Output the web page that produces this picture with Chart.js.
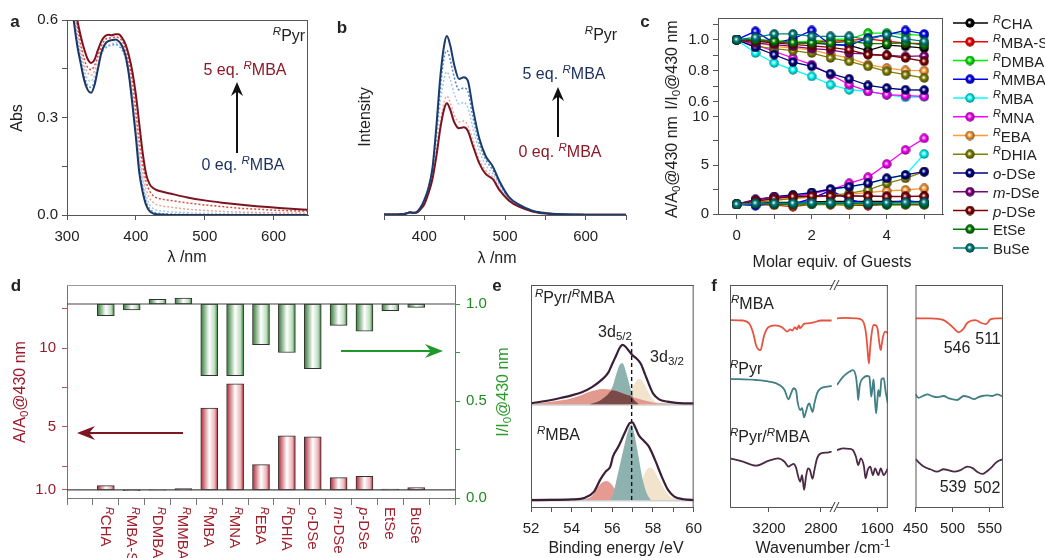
<!DOCTYPE html>
<html>
<head>
<meta charset="utf-8">
<script src="https://cdn.jsdelivr.net/npm/chart.js@4.4.1/dist/chart.umd.min.js"></script>
<style>
body { margin: 0; background: #fff; }
#fig { position: relative; width: 1045px; height: 558px; overflow: hidden; background: #fff; }
.pn { position: absolute; }
.pn canvas { display: block; }
.lbl { position: absolute; white-space: nowrap; font: 16px "Liberation Sans", Arial, sans-serif; line-height: 1; color: #222; }
.lbl sup { font-size: 72%; vertical-align: 0.5em; line-height: 0; }
.lbl sub { font-size: 72%; vertical-align: -0.28em; line-height: 0; }
</style>
</head>
<body>
<div id="fig">
  <div class="pn" style="left:0;top:0"><canvas id="cA" width="330" height="270"></canvas></div>
  <div class="pn" style="left:330px;top:0"><canvas id="cB" width="330" height="270"></canvas></div>
  <div class="pn" style="left:660px;top:0"><canvas id="cC" width="385" height="270"></canvas></div>
  <div class="pn" style="left:0;top:270px"><canvas id="cD" width="510" height="288"></canvas></div>
  <div class="pn" style="left:510px;top:270px"><canvas id="cE" width="200" height="288"></canvas></div>
  <div class="pn" style="left:710px;top:270px"><canvas id="cF1" width="150" height="288"></canvas></div>
  <div class="pn" style="left:815px;top:270px"><canvas id="cF2" width="90" height="288"></canvas></div>
  <div class="pn" style="left:895px;top:270px"><canvas id="cF3" width="150" height="288"></canvas></div>
</div>
<script>
// ---- a: absorption titration ----
const waveA = [300,305,310,315,320,325,330,335,340,345,350,355,360,365,370,375,380,385,390,395,400,405,410,415,420,425,430,440,450,475,500,525,550,575,600,625,650];
const abs0 = [0.82,0.69,0.595,0.52,0.465,0.415,0.385,0.376,0.40,0.45,0.50,0.525,0.535,0.538,0.54,0.535,0.52,0.49,0.43,0.34,0.24,0.13,0.07,0.03,0.012,0.005,0.002,0.001,0,0,0,0,0,0,0,0,0];
const absLb1 = [0.83,0.71,0.615,0.54,0.48,0.43,0.40,0.393,0.412,0.455,0.495,0.512,0.52,0.522,0.525,0.52,0.508,0.482,0.43,0.35,0.255,0.15,0.085,0.042,0.02,0.01,0.006,0.004,0.003,0.002,0.001,0,0,0,0,0,0];
const absLb2 = [0.84,0.72,0.63,0.555,0.495,0.447,0.418,0.412,0.428,0.462,0.497,0.515,0.522,0.527,0.53,0.527,0.515,0.49,0.44,0.36,0.27,0.175,0.105,0.058,0.032,0.02,0.015,0.012,0.01,0.007,0.005,0.004,0.003,0.003,0.002,0.002,0.002];
const absPk = [0.85,0.73,0.645,0.572,0.512,0.463,0.438,0.43,0.443,0.475,0.508,0.526,0.534,0.535,0.538,0.535,0.525,0.5,0.455,0.38,0.29,0.195,0.125,0.078,0.052,0.039,0.032,0.027,0.024,0.018,0.014,0.011,0.009,0.008,0.007,0.006,0.006];
const absRd = [0.86,0.745,0.655,0.585,0.528,0.48,0.455,0.447,0.46,0.49,0.52,0.538,0.545,0.545,0.548,0.545,0.535,0.512,0.47,0.41,0.32,0.23,0.155,0.102,0.074,0.06,0.053,0.048,0.045,0.037,0.031,0.026,0.021,0.018,0.015,0.013,0.012];
const abs5 = [0.88,0.76,0.67,0.60,0.55,0.51,0.48,0.468,0.478,0.508,0.535,0.55,0.555,0.553,0.556,0.556,0.545,0.525,0.49,0.44,0.37,0.28,0.19,0.125,0.095,0.083,0.077,0.071,0.066,0.054,0.045,0.038,0.032,0.027,0.023,0.019,0.016];
const aXTicks = [300, 400, 500, 600], aXLabels = ['300', '400', '500', '600'];
const aYTicks = [0, 0.15, 0.3, 0.45, 0.6], aYLabels = ['0.0', '', '0.3', '', '0.6'];

// ---- b: emission titration ----
const waveB = [350,360,370,375,380,382,385,390,395,400,405,410,415,420,425,428,432,437,443,449,454,460,468,476,485,493,505,518,534,551,571,600,650];
const em0 = [0.003,0.003,0.004,0.006,0.012,0.016,0.012,0.012,0.03,0.06,0.12,0.2,0.33,0.49,0.6,0.625,0.59,0.52,0.485,0.49,0.47,0.39,0.29,0.23,0.2,0.14,0.08,0.045,0.02,0.008,0.003,0.002,0.001];
const emPk = [0.003,0.003,0.004,0.006,0.012,0.016,0.012,0.013,0.032,0.065,0.13,0.215,0.36,0.53,0.64,0.665,0.63,0.56,0.52,0.525,0.5,0.42,0.31,0.25,0.21,0.15,0.085,0.048,0.021,0.009,0.003,0.002,0.001];
const emLb = [0.003,0.003,0.004,0.006,0.012,0.016,0.012,0.014,0.035,0.072,0.135,0.235,0.42,0.64,0.77,0.8,0.76,0.68,0.62,0.63,0.6,0.49,0.36,0.28,0.23,0.165,0.09,0.05,0.022,0.009,0.004,0.002,0.001];
const emMb = [0.003,0.003,0.004,0.006,0.012,0.016,0.012,0.015,0.038,0.08,0.145,0.25,0.46,0.72,0.89,0.92,0.87,0.77,0.7,0.71,0.69,0.55,0.4,0.31,0.25,0.18,0.095,0.054,0.023,0.01,0.004,0.002,0.001];
const em5 = [0.003,0.003,0.004,0.006,0.012,0.016,0.012,0.015,0.04,0.085,0.15,0.26,0.5,0.78,0.96,1.0,0.95,0.84,0.76,0.77,0.75,0.6,0.43,0.33,0.27,0.19,0.1,0.056,0.024,0.01,0.004,0.002,0.001];
const bXTicks = [350, 400, 450, 500, 550, 600, 650], bXLabels = ['', '400', '', '500', '', '600', ''];

// ---- c: titration with guests ----
const guests = ['RCHA', 'RMBA-S', 'RDMBA', 'RMMBA', 'RMBA', 'RMNA', 'REBA', 'RDHIA', 'o-DSe', 'm-DSe', 'p-DSe', 'EtSe', 'BuSe'];
const guestColors = ['#000000', '#ff0000', '#00ee00', '#0000ff', '#00ffff', '#ff00ff', '#ff9933', '#808000', '#000080', '#800080', '#800000', '#008000', '#008080'];
const equiv = [0, 0.5, 1, 1.5, 2, 2.5, 3, 3.5, 4, 4.5, 5];
const iCHA  = [1,0.99,0.99,0.98,0.978,0.97,0.963,0.93,0.965,0.957,0.945];
const iMBAS = [1,0.99,0.99,0.98,0.985,0.99,0.995,1.005,0.99,0.978,0.975];
const iDMBA = [1,1.0,0.995,0.985,0.99,1.0,1.005,1.043,1.043,1.035,1.028];
const iMMBA = [1,1.054,0.978,1.005,1.06,0.968,0.963,1.01,1.032,1.06,1.037];
const iMBA  = [1,0.914,0.85,0.806,0.763,0.71,0.677,0.667,0.645,0.628,0.632];
const iMNA  = [1,0.968,0.925,0.882,0.839,0.774,0.71,0.667,0.645,0.639,0.634];
const iEBA  = [1,0.985,0.957,0.946,0.935,0.905,0.882,0.839,0.817,0.802,0.8];
const iDHIA = [1,0.957,0.942,0.929,0.914,0.882,0.86,0.828,0.796,0.774,0.753];
const iODSe = [1,0.95,0.903,0.856,0.828,0.781,0.748,0.705,0.688,0.677,0.675];
const iMDSe = [1,0.978,0.968,0.957,0.942,0.935,0.914,0.907,0.899,0.892,0.895];
const iPDSe = [1,0.99,0.98,0.97,0.96,0.95,0.935,0.903,0.899,0.882,0.86];
const iEtSe = [1,1.0,0.99,0.982,0.98,0.978,0.99,0.975,0.975,0.98,0.967];
const iBuSe = [1,1.015,1.037,1.037,1.022,1.022,1.022,1.0,1.032,1.006,0.989];
const aCHA  = [1,1.1,1.2,1.2,1.25,1.3,1.3,1.3,1.3,1.3,1.27];
const aMBAS = [1,0.95,0.9,0.75,1.0,0.95,0.9,0.85,0.95,0.95,0.95];
const aDMBA = [1,1.0,1.0,0.95,1.0,1.05,1.0,1.0,0.95,1.0,0.98];
const aMMBA = [1,0.85,1.1,1.0,1.6,2.4,1.5,1.0,1.05,1.4,1.1];
const aMBA  = [1,1.4,1.75,1.95,2.2,2.5,2.75,3.1,3.6,4.0,6.15];
const aMNA  = [1,1.3,1.6,1.8,2.1,2.46,3.14,3.76,5.12,6.56,7.75];
const aEBA  = [1,1.2,1.4,1.6,1.7,1.85,2.0,2.2,2.36,2.46,2.63];
const aDHIA = [1,1.2,1.4,1.6,1.8,1.9,2.11,2.46,3.14,3.65,4.34];
const aODSe = [1,1.43,1.78,1.95,2.2,2.56,2.8,3.14,3.65,4.0,4.34];
const aMDSe = [1,1.5,1.74,1.84,1.84,1.9,1.85,1.84,1.8,1.8,1.8];
const aPDSe = [1,1.32,1.57,1.78,1.84,1.84,1.84,1.84,1.78,1.78,1.84];
const aEtSe = [1,1.05,1.0,1.0,1.05,1.05,1.1,1.05,1.0,1.0,1.0];
const aBuSe = [1,1.1,1.1,1.1,1.15,1.15,1.15,1.15,1.15,1.2,1.2];
const iSeries = [iCHA, iMBAS, iDMBA, iMMBA, iMBA, iMNA, iEBA, iDHIA, iODSe, iMDSe, iPDSe, iEtSe, iBuSe];
const aSeries = [aCHA, aMBAS, aDMBA, aMMBA, aMBA, aMNA, aEBA, aDHIA, aODSe, aMDSe, aPDSe, aEtSe, aBuSe];
const cXTicks = [0, 1, 2, 3, 4, 5], cXLabels = ['0', '', '2', '', '4', ''];
const cITicks = [0.6, 0.7, 0.8, 0.9, 1.0, 1.1], cILabels = ['0.6', '', '0.8', '', '1.0', ''];
const cATicks = [0, 2.5, 5, 7.5, 10], cALabels = ['0', '', '5', '', '10'];

// ---- d: values at 5 equiv. ----
const barAbs = [1.27,0.95,0.98,1.08,6.19,7.73,2.6,4.43,4.36,1.78,1.86,1.05,1.15];
const barInt = [0.94,0.97,1.024,1.03,0.63,0.63,0.79,0.75,0.667,0.89,0.86,0.966,0.983];
const dLTicks = [1, 2.5, 5, 7.5, 10, 12.5], dLLabels = ['1.0', '', '5', '', '10', ''];
const dRTicks = [0, 0.25, 0.5, 0.75, 1.0], dRLabels = ['0.0', '', '0.5', '', '1.0'];

// ---- e: Se 3d XPS ----
const eUpX = [52,53,53.5,54,54.5,55,55.5,55.8,56,56.2,56.35,56.5,56.65,56.8,57,57.2,57.4,57.6,57.8,58,58.3,58.7,59.5,60];
const eUpY = [0.467,0.482,0.492,0.503,0.517,0.54,0.575,0.605,0.645,0.685,0.715,0.73,0.722,0.705,0.683,0.668,0.645,0.6,0.553,0.512,0.485,0.475,0.467,0.467];
const eUpRedX = [52,53,54,54.5,55,55.5,56,56.5,57,57.5,58,58.5,59,60];
const eUpRedY = [0.464,0.474,0.49,0.505,0.522,0.532,0.528,0.512,0.496,0.482,0.471,0.466,0.463,0.463];
const eUpTealX = [54.9,55.3,55.7,56.0,56.2,56.4,56.5,56.7,56.9,57.1,57.3];
const eUpTealY = [0.463,0.475,0.5,0.54,0.6,0.645,0.648,0.6,0.53,0.48,0.463];
const eUpDarkX = [54.9,55.3,55.7,56.0,56.2,56.4,56.6,56.8,56.9,57.1,57.3];
const eUpDarkY = [0.463,0.475,0.5,0.526,0.522,0.516,0.509,0.503,0.5,0.48,0.463];
const eUpBeigeX = [56.6,56.8,57.0,57.2,57.35,57.5,57.7,57.9,58.1,58.4];
const eUpBeigeY = [0.463,0.49,0.54,0.57,0.577,0.565,0.53,0.495,0.475,0.463];
const eLowX = [52,53,54,54.65,55.1,55.4,55.67,55.9,56.03,56.3,56.6,56.85,56.98,57.17,57.3,57.56,57.8,58.1,58.43,58.74,59.05,59.5,60];
const eLowY = [0.031,0.032,0.034,0.042,0.069,0.122,0.159,0.182,0.227,0.272,0.332,0.377,0.381,0.35,0.324,0.297,0.272,0.212,0.137,0.077,0.047,0.035,0.031];
const eLowRedX = [54.6,55.0,55.3,55.5,55.7,55.9,56.1,56.4,56.7,57.0];
const eLowRedY = [0.031,0.05,0.09,0.11,0.117,0.108,0.085,0.055,0.038,0.031];
const eLowTealX = [55.9,56.05,56.2,56.4,56.6,56.8,56.95,57.1,57.3,57.5,57.7,57.9];
const eLowTealY = [0.031,0.06,0.12,0.2,0.28,0.35,0.37,0.32,0.22,0.12,0.06,0.031];
const eLowBeigeX = [57.0,57.3,57.5,57.7,57.85,58.0,58.2,58.5,58.8,59.2];
const eLowBeigeY = [0.031,0.08,0.13,0.17,0.178,0.17,0.14,0.09,0.05,0.031];
const eBaseUp = 0.463, eBaseLow = 0.031;
const eDashX = [56.95, 56.95], eDashY = [0.031, 0.742];
const eXTicks = [52,53,54,55,56,57,58,59,60], eXLabels = ['52','','54','','56','','58','','60'];

// ---- f: FTIR ----
const f1MbaX = [3500,3400,3351,3321,3300,3282,3264,3250,3236,3205,3154,3100,3059,3038,3020,3000,2985,2970,2962,2945,2931,2905,2854,2800,2718];
const f1MbaY = [0.842,0.84,0.825,0.782,0.73,0.71,0.707,0.74,0.775,0.81,0.818,0.81,0.79,0.8,0.795,0.81,0.8,0.818,0.805,0.815,0.825,0.827,0.832,0.84,0.84];
const f1PyrX = [3500,3300,3200,3120,3080,3050,3030,3010,2990,2980,2960,2945,2930,2915,2900,2890,2880,2865,2850,2830,2800,2750,2718];
const f1PyrY = [0.577,0.572,0.565,0.55,0.527,0.485,0.512,0.535,0.52,0.475,0.437,0.445,0.404,0.43,0.46,0.467,0.452,0.428,0.467,0.512,0.535,0.542,0.545];
const f1MixX = [3500,3400,3300,3200,3130,3080,3050,3030,3010,2990,2975,2960,2945,2930,2915,2900,2885,2865,2850,2830,2800,2750,2718];
const f1MixY = [0.219,0.204,0.186,0.209,0.219,0.204,0.182,0.189,0.194,0.174,0.137,0.114,0.144,0.077,0.137,0.174,0.167,0.127,0.167,0.219,0.242,0.245,0.25];
const f2MbaX = [1975,1900,1800,1740,1710,1695,1685,1676,1668,1655,1635,1610,1595,1583,1572,1566,1558,1545,1525,1500];
const f2MbaY = [0.85,0.852,0.85,0.842,0.8,0.74,0.68,0.647,0.7,0.767,0.82,0.818,0.8,0.752,0.715,0.707,0.73,0.767,0.79,0.782];
const f2PyrX = [1975,1917,1857,1827,1798,1785,1777,1765,1753,1732,1694,1673,1663,1655,1645,1634,1625,1619,1610,1600,1589,1574,1560,1539,1521,1500];
const f2PyrY = [0.55,0.587,0.61,0.617,0.587,0.53,0.482,0.54,0.565,0.58,0.59,0.587,0.54,0.497,0.53,0.575,0.52,0.47,0.422,0.47,0.527,0.497,0.575,0.58,0.52,0.467];
const f2MixX = [1975,1917,1860,1827,1798,1777,1753,1723,1708,1688,1664,1640,1619,1589,1566,1539,1500];
const f2MixY = [0.256,0.264,0.262,0.256,0.226,0.189,0.219,0.182,0.129,0.167,0.182,0.144,0.174,0.144,0.174,0.144,0.174];
const f3MbaX = [450,470,488,497,503,508,514,520,531,538,545,551,560,568];
const f3MbaY = [0.85,0.85,0.842,0.82,0.8,0.787,0.8,0.83,0.842,0.83,0.824,0.845,0.85,0.85];
const f3PyrX = [450,454,460,466,472,479,488,495,501,506,515,522,529,535,540,546,553,560,568];
const f3PyrY = [0.507,0.492,0.5,0.507,0.5,0.495,0.5,0.489,0.485,0.482,0.5,0.495,0.486,0.495,0.5,0.503,0.5,0.507,0.497];
const f3MixX = [450,461,470,479,488,495,502,510,520,527,533,540,546,551,560,568];
const f3MixY = [0.215,0.182,0.17,0.159,0.17,0.165,0.159,0.165,0.182,0.175,0.159,0.149,0.16,0.174,0.204,0.215];

Chart.defaults.font.family = '"Liberation Sans", Arial, sans-serif';
Chart.defaults.font.size = 15;
Chart.defaults.color = '#222';
Chart.defaults.animation = false;
Chart.defaults.responsive = false;
Chart.defaults.plugins.legend.display = false;
Chart.defaults.plugins.tooltip.enabled = false;
Chart.defaults.layout.autoPadding = false;

const fig = document.getElementById('fig');
const R = '<sup><i>R</i></sup>';

function label(html, x, y, o = {}) {
  const d = document.createElement('div');
  d.className = 'lbl';
  d.innerHTML = html;
  d.style.left = x + 'px';
  d.style.top = y + 'px';
  if (o.size) d.style.fontSize = o.size + 'px';
  if (o.color) d.style.color = o.color;
  if (o.bold) d.style.fontWeight = 'bold';
  if (o.down) {
    d.style.transformOrigin = '0 0';
    d.style.transform = 'rotate(90deg) translate(0,-50%)';
  } else {
    const ax = o.align === 'left' ? '0' : o.align === 'right' ? '-100%' : '-50%';
    d.style.transform = 'translate(' + ax + ',-50%)' + (o.rot ? ' rotate(' + o.rot + 'deg)' : '');
  }
  fig.appendChild(d);
}

function fmt(name) {
  if (/^R[A-Z]/.test(name)) return R + name.slice(1);
  const m = name.match(/^([omp])-(.*)$/);
  return m ? '<i>' + m[1] + '</i>-' + m[2] : name;
}

function xy(xs, ys) { return xs.map((x, i) => ({ x: x, y: ys[i] })); }

function curve(xs, ys, color, width, dash) {
  return { data: xy(xs, ys), borderColor: color, borderWidth: width, borderDash: dash || [],
           pointRadius: 0, fill: false, cubicInterpolationMode: 'monotone' };
}

function axis(o) {
  const col = o.color || '#555';
  const horiz = o.pos === 'bottom' || o.pos === 'top';
  return {
    type: 'linear', position: o.pos, min: o.min, max: o.max, reverse: !!o.reverse,
    stack: o.stack, stackWeight: o.sw, weight: o.weight || 0,
    border: { color: col, width: 1 },
    grid: { drawOnChartArea: false, tickLength: o.tl || 5, color: col },
    ticks: {
      display: !!o.labels, color: o.tc || '#222', font: { size: 15 },
      padding: o.pad !== undefined ? o.pad : (horiz ? 8 : 4),
      autoSkip: false, maxRotation: 0, minRotation: 0,
      callback: (v, i) => (o.labels ? o.labels[i] : '')
    },
    afterBuildTicks: s => { s.ticks = o.ticks.map(v => ({ value: v })); },
    afterFit: s => { if (horiz) s.height = o.h; else s.width = o.w; }
  };
}

// box sides that are not axis lines
function frame(sides, color) {
  return {
    id: 'frame',
    afterDraw(chart) {
      const ctx = chart.ctx, a = chart.chartArea;
      ctx.save();
      ctx.strokeStyle = color || '#555';
      ctx.lineWidth = 1;
      ctx.beginPath();
      if (sides.includes('t')) { ctx.moveTo(a.left, a.top + 0.5); ctx.lineTo(a.right, a.top + 0.5); }
      if (sides.includes('r')) { ctx.moveTo(a.right - 0.5, a.top); ctx.lineTo(a.right - 0.5, a.bottom); }
      if (sides.includes('l')) { ctx.moveTo(a.left + 0.5, a.top); ctx.lineTo(a.left + 0.5, a.bottom); }
      if (sides.includes('b')) { ctx.moveTo(a.left, a.bottom - 0.5); ctx.lineTo(a.right, a.bottom - 0.5); }
      ctx.stroke();
      ctx.restore();
    }
  };
}

function drawArrow(ctx, a) {
  const ang = Math.atan2(a.y2 - a.y1, a.x2 - a.x1), L = a.head || 14, W = a.hw || 6;
  ctx.save();
  ctx.strokeStyle = a.color;
  ctx.fillStyle = a.color;
  ctx.lineWidth = a.w || 2;
  ctx.beginPath();
  ctx.moveTo(a.x1, a.y1);
  ctx.lineTo(a.x2 - Math.cos(ang) * L * 0.6, a.y2 - Math.sin(ang) * L * 0.6);
  ctx.stroke();
  ctx.translate(a.x2, a.y2);
  ctx.rotate(ang);
  ctx.beginPath();
  ctx.moveTo(0, 0);
  ctx.lineTo(-L, -W);
  ctx.lineTo(-L * 0.68, 0);
  ctx.lineTo(-L, W);
  ctx.closePath();
  ctx.fill();
  ctx.restore();
}

function arrows(list) {
  return { id: 'arrows', afterDraw(chart) { list.forEach(a => drawArrow(chart.ctx, a)); } };
}

function darken(hex, f) {
  const n = parseInt(hex.slice(1), 16);
  return 'rgb(' + Math.round(((n >> 16) & 255) * f) + ',' + Math.round(((n >> 8) & 255) * f) + ',' + Math.round((n & 255) * f) + ')';
}

function ball(col) {
  const c = document.createElement('canvas');
  c.width = c.height = 10;
  const g = c.getContext('2d');
  const gr = g.createRadialGradient(4.3, 4.3, 0.3, 5, 5, 5);
  gr.addColorStop(0, '#ffffff');
  gr.addColorStop(0.4, col);
  gr.addColorStop(1, darken(col, 0.45));
  g.fillStyle = gr;
  g.beginPath();
  g.arc(5, 5, 4.7, 0, Math.PI * 2);
  g.fill();
  return c;
}

// ---------- panel a ----------
new Chart(document.getElementById('cA'), {
  type: 'line',
  data: { datasets: [
    curve(waveA, abs5, '#7b1420', 2),
    curve(waveA, abs0, '#1a3766', 2),
    curve(waveA, absRd, '#e0483e', 1.5, [2, 2]),
    curve(waveA, absPk, '#f2a49b', 1.5, [2, 2]),
    curve(waveA, absLb2, '#a6c8e8', 1.5, [2, 2]),
    curve(waveA, absLb1, '#5a95cf', 1.5, [2, 2])
  ] },
  options: {
    layout: { padding: { top: 20, right: 22, left: 0, bottom: 0 } },
    scales: {
      x: axis({ pos: 'bottom', min: 300, max: 650, ticks: aXTicks, labels: aXLabels, h: 55 }),
      y: axis({ pos: 'left', min: 0, max: 0.6, ticks: aYTicks, labels: aYLabels, w: 67 })
    }
  },
  plugins: [frame('tr'), arrows([{ x1: 237, y1: 153, x2: 237, y2: 82, color: '#111' }])]
});

// ---------- panel b ----------
new Chart(document.getElementById('cB'), {
  type: 'line',
  data: { datasets: [
    curve(waveB, em5, '#1b3b6d', 2),
    curve(waveB, em0, '#7b1420', 2),
    curve(waveB, emMb, '#4a88c8', 1.5, [2, 2]),
    curve(waveB, emLb, '#a3c7ea', 1.5, [2, 2]),
    curve(waveB, emPk, '#f0a59d', 1.5, [2, 2])
  ] },
  options: {
    layout: { padding: { top: 20, right: 34, left: 54, bottom: 0 } },
    scales: {
      x: axis({ pos: 'bottom', min: 350, max: 650, ticks: bXTicks, labels: bXLabels, h: 55 }),
      y: { display: false, min: 0, max: 1.09 }
    }
  },
  plugins: [arrows([{ x1: 228, y1: 137, x2: 228, y2: 87, color: '#111' }])]
});

// ---------- panel c ----------
const balls = guestColors.map(ball);
const cSets = [];
guests.forEach((g, k) => {
  const base = { borderColor: guestColors[k], backgroundColor: guestColors[k], borderWidth: 1.3,
                 pointStyle: balls[k], pointRadius: 5, order: guests.length - k };
  cSets.push(Object.assign({ data: xy(equiv, iSeries[k]), yAxisID: 'yI' }, base));
  cSets.push(Object.assign({ data: xy(equiv, aSeries[k]), yAxisID: 'yA' }, base));
});
const legendC = {
  id: 'legC',
  afterDraw(chart) {
    const ctx = chart.ctx;
    guests.forEach((g, k) => {
      const y = 23 + k * 18.75;
      ctx.save();
      ctx.strokeStyle = guestColors[k];
      ctx.lineWidth = 1.3;
      ctx.beginPath();
      ctx.moveTo(293, y);
      ctx.lineTo(328, y);
      ctx.stroke();
      ctx.drawImage(balls[k], 305, y - 5);
      ctx.restore();
    });
  }
};
new Chart(document.getElementById('cC'), {
  type: 'line',
  data: { datasets: cSets },
  options: {
    layout: { padding: { top: 18, right: 102, left: 0, bottom: 0 } },
    scales: {
      x: axis({ pos: 'bottom', min: -0.5, max: 5.5, ticks: cXTicks, labels: cXLabels, h: 56 }),
      yI: axis({ pos: 'left', stack: 'c', sw: 93, weight: 2, min: 0.54, max: 1.14, ticks: cITicks, labels: cILabels, w: 58 }),
      yA: axis({ pos: 'left', stack: 'c', sw: 103, weight: 1, min: 0, max: 10.55, ticks: cATicks, labels: cALabels, w: 58 })
    }
  },
  plugins: [frame('tr'), legendC]
});

// ---------- panel d ----------
function barFill(edge, soft) {
  return c => {
    if (c.type !== 'data' || !c.chart.scales.x) return edge;
    const cx = c.chart.scales.x.getPixelForValue(c.dataIndex);
    if (!isFinite(cx)) return edge;
    const g = c.chart.ctx.createLinearGradient(cx - 8.5, 0, cx + 8.5, 0);
    g.addColorStop(0, edge);
    g.addColorStop(0.5, '#ffffff');
    g.addColorStop(0.82, soft);
    g.addColorStop(1, edge);
    return g;
  };
}
const refLines = {
  id: 'refLines',
  afterDatasetsDraw(chart) {
    const ctx = chart.ctx, a = chart.chartArea;
    ctx.save();
    ctx.strokeStyle = '#444';
    ctx.lineWidth = 1.2;
    [chart.scales.yL.getPixelForValue(1), chart.scales.yR.getPixelForValue(1)].forEach(y => {
      ctx.beginPath();
      ctx.moveTo(a.left, y);
      ctx.lineTo(a.right, y);
      ctx.stroke();
    });
    ctx.restore();
  }
};
const chartD = new Chart(document.getElementById('cD'), {
  type: 'bar',
  data: { datasets: [
    { data: barAbs.map((v, k) => ({ x: k, y: [1, v] })), yAxisID: 'yL', grouped: false, barThickness: 17,
      backgroundColor: barFill('#b32635', '#ebb5b9'), borderColor: '#333', borderWidth: 1, borderSkipped: false },
    { data: barInt.map((v, k) => ({ x: k, y: [1, v] })), yAxisID: 'yR', grouped: false, barThickness: 17,
      backgroundColor: barFill('#2f7a34', '#bcdcbc'), borderColor: '#333', borderWidth: 1, borderSkipped: false }
  ] },
  options: {
    layout: { padding: { top: 15, right: 0, left: 0, bottom: 0 } },
    scales: {
      x: axis({ pos: 'bottom', min: -1, max: 13, ticks: [-1,0,1,2,3,4,5,6,7,8,9,10,11,12,13], labels: null, h: 60, tl: 7, color: '#777' }),
      yL: axis({ pos: 'left', min: 0.485, max: 14, ticks: dLTicks, labels: dLLabels, w: 67, color: '#c0505c', tc: '#9b1b2b', pad: 6 }),
      yR: axis({ pos: 'right', min: 0, max: 1.098, ticks: dRTicks, labels: dRLabels, w: 55, color: '#3a9a3a', tc: '#1f8b1f', pad: 6 })
    }
  },
  plugins: [frame('t', '#999'), refLines,
    arrows([{ x1: 183, y1: 163, x2: 77, y2: 163, color: '#7d1620', head: 18, hw: 7 },
            { x1: 341, y1: 81, x2: 443, y2: 81, color: '#1f9a2a', head: 18, hw: 7 }])]
});
guests.forEach((g, k) => {
  label(fmt(g), chartD.scales.x.getPixelForValue(k), 507, { down: true, color: '#a0202c', size: 15 });
});

// ---------- panel e ----------
function band(xs, ys, color, base) {
  return { data: xy(xs, ys), borderWidth: 0, pointRadius: 0, backgroundColor: color,
           fill: { value: base }, cubicInterpolationMode: 'monotone' };
}
const eBaselines = {
  id: 'eBaselines',
  beforeDatasetsDraw(chart) {
    const ctx = chart.ctx, a = chart.chartArea, ys = chart.scales.y;
    ctx.save();
    ctx.strokeStyle = '#cfcfcf';
    ctx.lineWidth = 3;
    [eBaseUp, eBaseLow].forEach(v => {
      const y = ys.getPixelForValue(v);
      ctx.beginPath();
      ctx.moveTo(a.left, y);
      ctx.lineTo(a.right, y);
      ctx.stroke();
    });
    ctx.restore();
  }
};
new Chart(document.getElementById('cE'), {
  type: 'line',
  data: { datasets: [
    curve(eUpX, eUpY, '#3a1f36', 2.2),
    curve(eLowX, eLowY, '#3a1f36', 2.2),
    { data: xy(eDashX, eDashY), borderColor: '#111', borderWidth: 1.4, borderDash: [4, 3], pointRadius: 0 },
    band(eUpDarkX, eUpDarkY, '#7a4a48', eBaseUp),
    band(eUpRedX, eUpRedY, '#e29a8e', eBaseUp),
    band(eUpTealX, eUpTealY, '#8db2b0', eBaseUp),
    band(eUpBeigeX, eUpBeigeY, '#f2e3cd', eBaseUp),
    band(eLowTealX, eLowTealY, '#8db2b0', eBaseLow),
    band(eLowRedX, eLowRedY, '#e59a92', eBaseLow),
    band(eLowBeigeX, eLowBeigeY, '#f2e3cd', eBaseLow)
  ] },
  options: {
    layout: { padding: { top: 15, right: 10, left: 21, bottom: 0 } },
    scales: {
      x: axis({ pos: 'bottom', min: 52, max: 60, ticks: eXTicks, labels: eXLabels, h: 51, pad: 8 }),
      y: { display: false, min: 0, max: 1 }
    }
  },
  plugins: [frame('ltr'), eBaselines]
});

// ---------- panel f ----------
function breaks(x, ys) {
  return {
    id: 'breaks',
    afterDraw(chart) {
      const ctx = chart.ctx;
      ctx.save();
      ctx.strokeStyle = '#333';
      ctx.lineWidth = 1;
      ys.forEach(y => {
        [-2, 2].forEach(dx => {
          ctx.beginPath();
          ctx.moveTo(x + dx - 2.5, y + 5);
          ctx.lineTo(x + dx + 2.5, y - 5);
          ctx.stroke();
        });
      });
      ctx.restore();
    }
  };
}
function irChart(id, sets, xo, pad, sides, extra) {
  return new Chart(document.getElementById(id), {
    type: 'line',
    data: { datasets: sets },
    options: {
      layout: { padding: { top: 15, right: pad[1], left: pad[0], bottom: 0 } },
      scales: {
        x: axis(Object.assign({ pos: 'bottom', h: 51, pad: 8 }, xo)),
        y: { display: false, min: 0, max: 1 }
      }
    },
    plugins: [frame(sides)].concat(extra || [])
  });
}
irChart('cF1', [
  curve(f1MbaX, f1MbaY, '#e8533f', 1.8),
  curve(f1PyrX, f1PyrY, '#3f7f85', 1.8),
  curve(f1MixX, f1MixY, '#4a2a45', 1.8)
], { min: 2715, max: 3500, reverse: true, ticks: [3200, 2800], labels: ['3200', '2800'] }, [20, 28], 'lt', [breaks(124.5, [15, 237])]);
irChart('cF2', [
  curve(f2MbaX, f2MbaY, '#e8533f', 1.8),
  curve(f2PyrX, f2PyrY, '#3f7f85', 1.8),
  curve(f2MixX, f2MixY, '#4a2a45', 1.8)
], { min: 1500, max: 1975, reverse: true, ticks: [1600], labels: ['1600'] }, [22, 15], 'tr');
irChart('cF3', [
  curve(f3MbaX, f3MbaY, '#e8533f', 1.8),
  curve(f3PyrX, f3PyrY, '#3f7f85', 1.8),
  curve(f3MixX, f3MixY, '#4a2a45', 1.8)
], { min: 450, max: 568, ticks: [450, 500, 550], labels: ['450', '500', '550'] }, [20, 42], 'ltr');

// ---------- text ----------
label('a', 15, 21, { bold: true, size: 17 });
label('b', 342, 27, { bold: true, size: 17 });
label('c', 645, 21, { bold: true, size: 17 });
label('d', 16, 285, { bold: true, size: 17 });
label('e', 497, 285, { bold: true, size: 17 });
label('f', 714, 285, { bold: true, size: 17 });

label(R + 'Pyr', 289, 36);
label('5 eq. ' + R + 'MBA', 245, 70, { color: '#8b1a28' });
label('0 eq. ' + R + 'MBA', 243, 165, { color: '#1b2f5e' });
label('Abs', 17, 118, { rot: -90 });
label('λ /nm', 187, 257);

label(R + 'Pyr', 601, 35);
label('5 eq. ' + R + 'MBA', 564, 74, { color: '#1b2f5e' });
label('0 eq. ' + R + 'MBA', 560, 152, { color: '#8b1a28' });
label('Intensity', 365, 117, { rot: -90 });
label('λ /nm', 497, 258);

label('I/I<sub>0</sub>@430 nm', 672, 65, { rot: -90 });
label('A/A<sub>0</sub>@430 nm', 672, 167, { rot: -90 });
label('Molar equiv. of Guests', 832, 262);
guests.forEach((g, k) => label(fmt(g), 993, 23 + k * 18.75, { align: 'left', size: 15 }));

label('A/A<sub>0</sub>@430 nm', 20, 392, { rot: -90, color: '#9b1b2b' });
label('I/I<sub>0</sub>@430 nm', 503, 392, { rot: -90, color: '#2a9a2a' });

label(R + 'Pyr/' + R + 'MBA', 535, 298, { align: 'left' });
label('3d<sub>5/2</sub>', 615, 332);
label('3d<sub>3/2</sub>', 667, 357);
label(R + 'MBA', 537, 435, { align: 'left' });
label('Binding energy /eV', 616, 548);

label(R + 'MBA', 731, 304, { align: 'left' });
label(R + 'Pyr', 730, 369, { align: 'left' });
label(R + 'Pyr/' + R + 'MBA', 730, 437, { align: 'left' });
label('546', 957, 348);
label('511', 988, 339);
label('539', 953, 487);
label('502', 987, 488);
label('Wavenumber /cm<sup>-1</sup>', 823, 548);
</script>
</body>
</html>
